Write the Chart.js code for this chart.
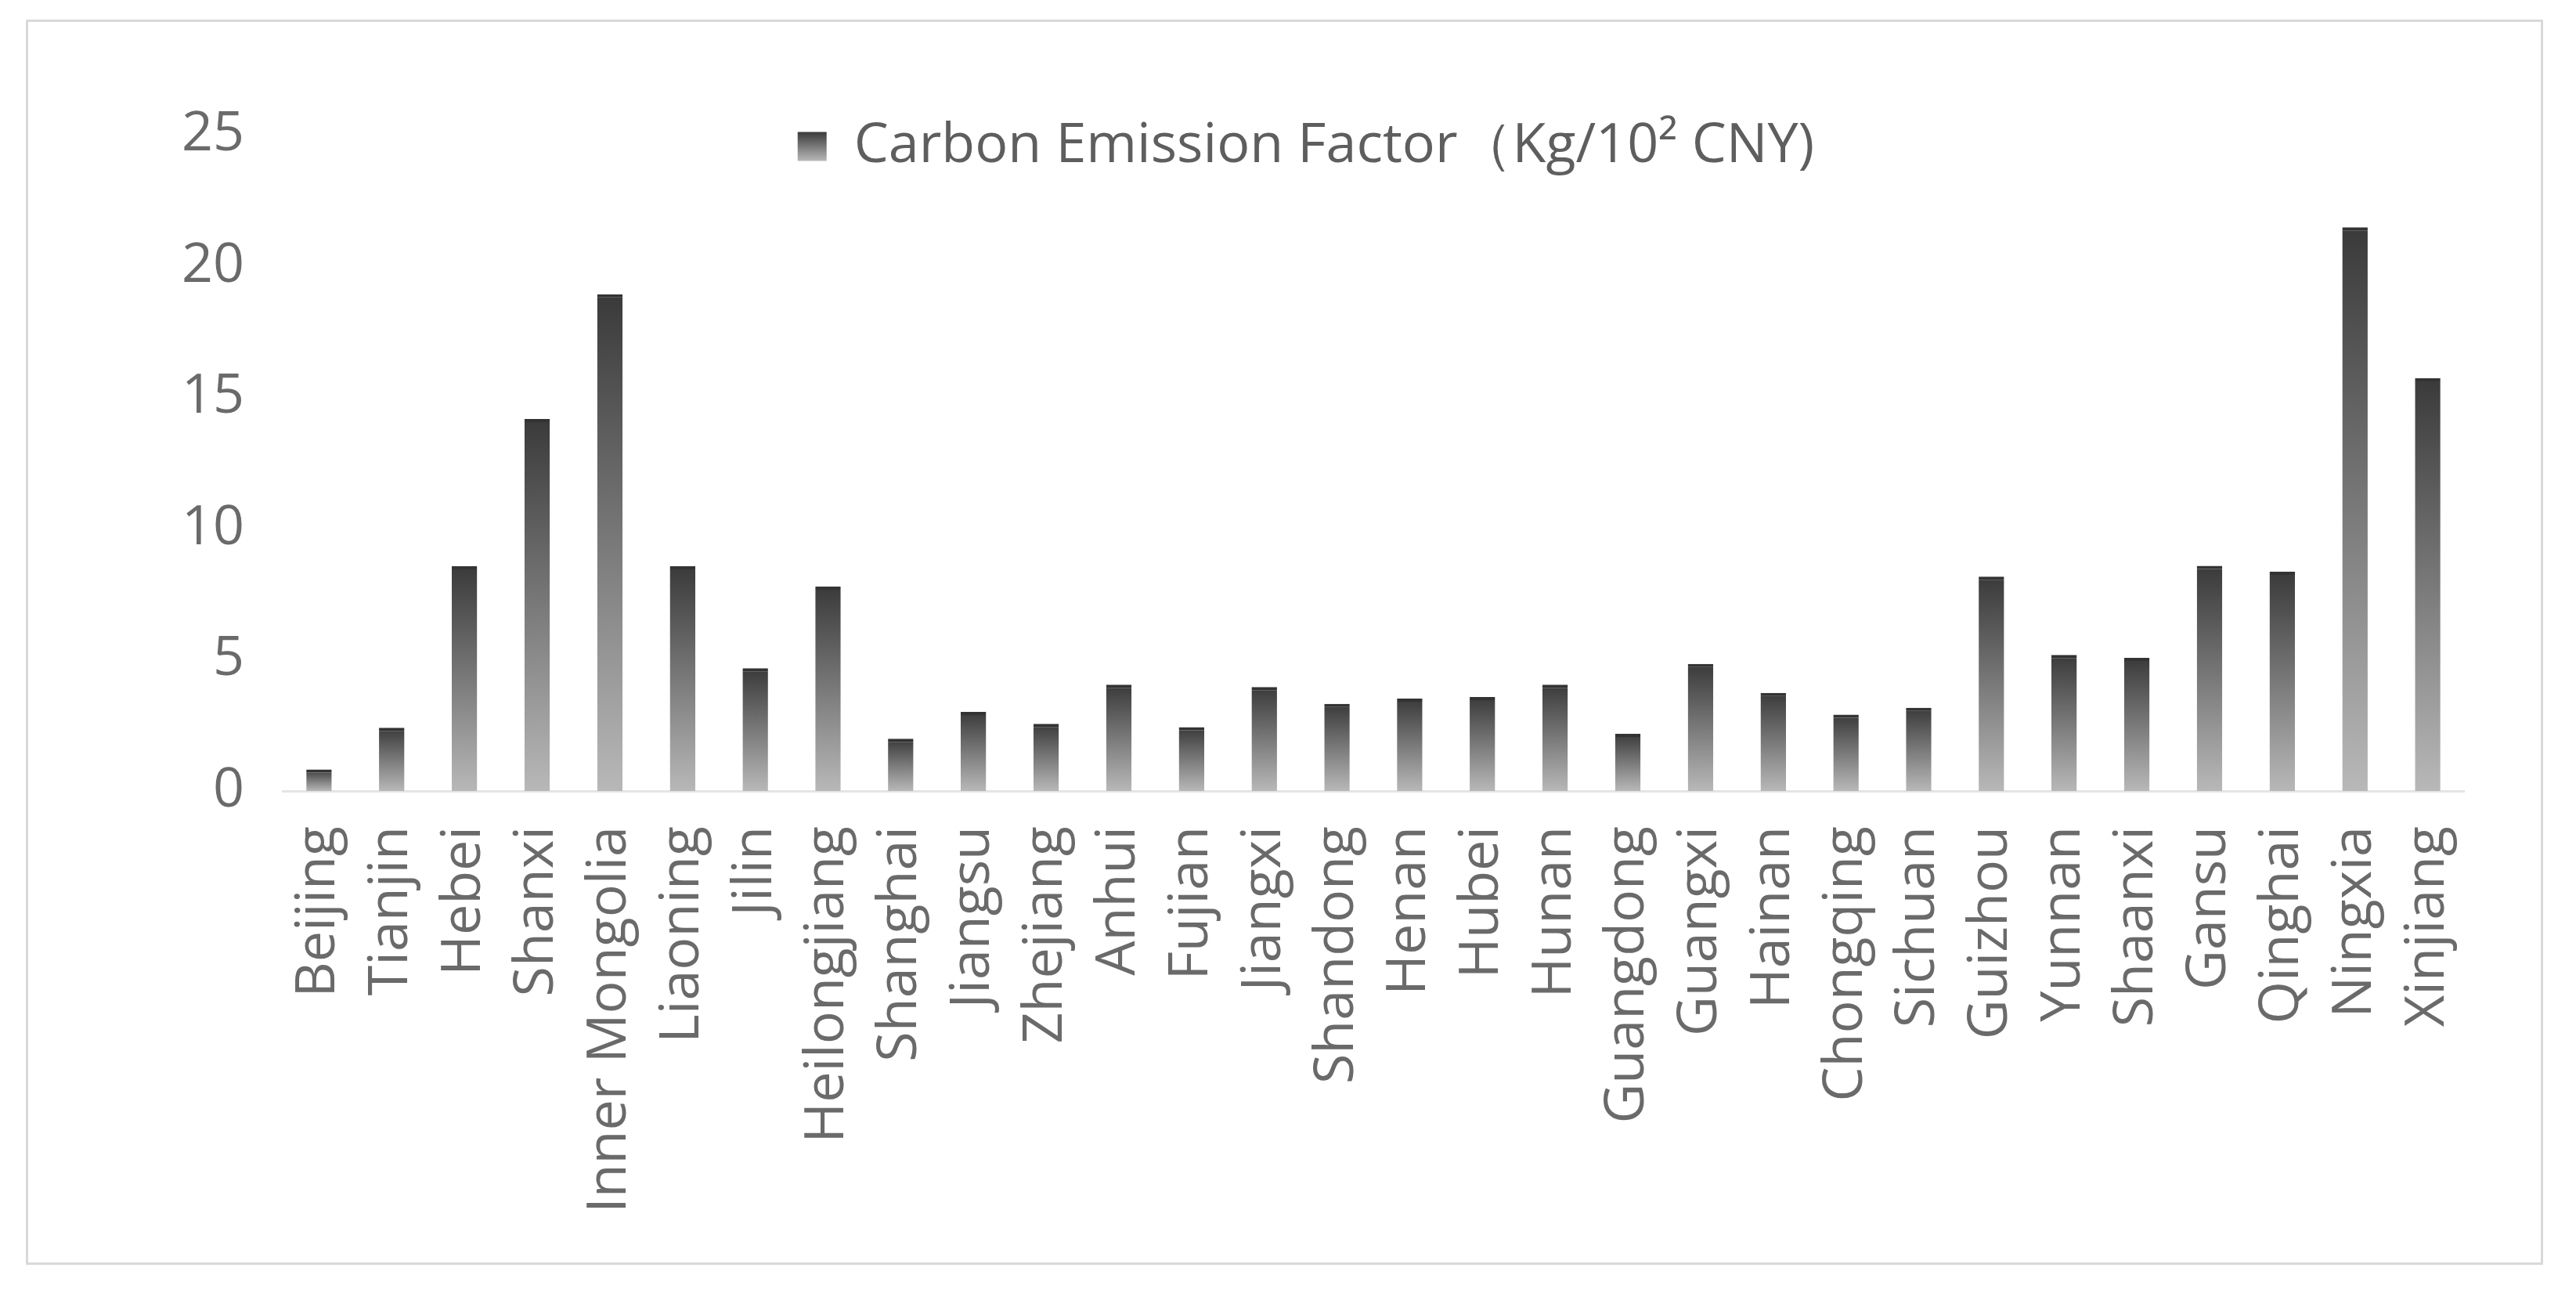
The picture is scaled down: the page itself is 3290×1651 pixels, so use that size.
<!DOCTYPE html>
<html>
<head>
<meta charset="utf-8">
<script src="https://cdn.jsdelivr.net/npm/chart.js@4.4.1/dist/chart.umd.min.js"></script>
<style>
  html, body { margin: 0; background: #fff; }
  .frame { position: absolute; left: 33px; top: 25px; width: 3215px; height: 1590px; box-sizing: border-box; border: 3px solid #d9d9d9; background: #fff; }
  .frame canvas { display: block; }
</style>
</head>
<body>
<div class="frame"><canvas id="chart" width="3209" height="1584"></canvas></div>
<script>
/* ===== Carbon emission factor by province (bar, per-bar vertical gradient) ===== */
const provinces = [
  "Beijing", "Tianjin", "Hebei", "Shanxi", "Inner Mongolia", "Liaoning", "Jilin", "Heilongjiang",
  "Shanghai", "Jiangsu", "Zhejiang", "Anhui", "Fujian", "Jiangxi", "Shandong", "Henan",
  "Hubei", "Hunan", "Guangdong", "Guangxi", "Hainan", "Chongqing", "Sichuan", "Guizhou",
  "Yunnan", "Shaanxi", "Gansu", "Qinghai", "Ningxia", "Xinjiang",
];
const emissionFactor = [
  0.82, 2.41, 8.56, 14.17, 18.92, 8.56, 4.68, 7.79,
  1.99, 3.01, 2.56, 4.05, 2.43, 3.96, 3.32, 3.52,
  3.58, 4.05, 2.18, 4.84, 3.74, 2.91, 3.17, 8.17,
  5.18, 5.07, 8.58, 8.35, 21.47, 15.72,
];
const yTicks = [0, 5, 10, 15, 20, 25];
const seriesLabel = "Carbon Emission Factor（Kg/10² CNY)";

const FONT = "'Open Sans', 'Noto Sans', sans-serif";
const TEXT = "#6a6a6a";
const DARK = "#3a3a3a", LIGHT = "#b8b8b8";
const LEGEND_DROP = 60, LEGEND_PAD = 10, LEGEND_FONT = 70, LEGEND_BOX = 37;

const grad = (ctx, y0, y1) => {
  const g = ctx.createLinearGradient(0, y0, 0, y1);
  g.addColorStop(0, DARK); g.addColorStop(1, LIGHT);
  return g;
};

// Excel puts the legend over the top of the plot; Chart.js stacks it above,
// so push it down after layout and give its swatch the same gradient.
const legendInPlot = {
  id: "legendInPlot",
  afterLayout(chart) { chart.legend.top += LEGEND_DROP; chart.legend.bottom += LEGEND_DROP; },
  afterUpdate(chart) {
    const lg = chart.legend, item = lg.legendItems && lg.legendItems[0];
    if (!item) return;
    const top = lg.top + LEGEND_PAD + (LEGEND_FONT - LEGEND_BOX) / 2;
    item.fillStyle = grad(chart.ctx, top, top + LEGEND_BOX);
    item.lineWidth = 0;
  },
};

new Chart(document.getElementById("chart"), {
  type: "bar",
  data: {
    labels: provinces,
    datasets: [{
      label: seriesLabel,
      data: emissionFactor,
      backgroundColor(c) {
        const y = c.chart.scales.y;
        if (!c.chart.chartArea || !y || c.raw == null) return "#777";
        return grad(c.chart.ctx, y.getPixelForValue(c.raw), y.getPixelForValue(0));
      },
      borderColor: "#333",
      borderWidth: { top: 4, left: 0, right: 0, bottom: 0 },
      borderSkipped: "bottom",
      categoryPercentage: 1,
      barPercentage: 0.35,
    }],
  },
  options: {
    responsive: false,
    animation: false,
    layout: { padding: { top: 54, left: 153, right: 98, bottom: 0 } },
    plugins: {
      legend: {
        position: "top",
        labels: { boxWidth: LEGEND_BOX, boxHeight: LEGEND_BOX, padding: LEGEND_PAD, color: "#5e5e5e", font: { family: FONT, size: LEGEND_FONT } },
      },
      tooltip: { enabled: false },
    },
    scales: {
      x: {
        grid: { display: false, drawTicks: false },
        border: { display: true, color: "#e4e4e4", width: 3 },
        ticks: { autoSkip: false, minRotation: 90, maxRotation: 90, padding: 45, color: TEXT, font: { family: FONT, size: 70 } },
        afterFit(s) { s.height = 602; },
      },
      y: {
        min: yTicks[0], max: yTicks[yTicks.length - 1],
        grid: { display: false, drawTicks: false },
        border: { display: false },
        afterBuildTicks(s) { s.ticks = yTicks.map((v) => ({ value: v })); },
        ticks: { padding: 49, color: TEXT, font: { family: FONT, size: 70 } },
        afterFit(s) { s.width = 172; },
      },
    },
  },
  plugins: [legendInPlot],
});
</script>
</body>
</html>
